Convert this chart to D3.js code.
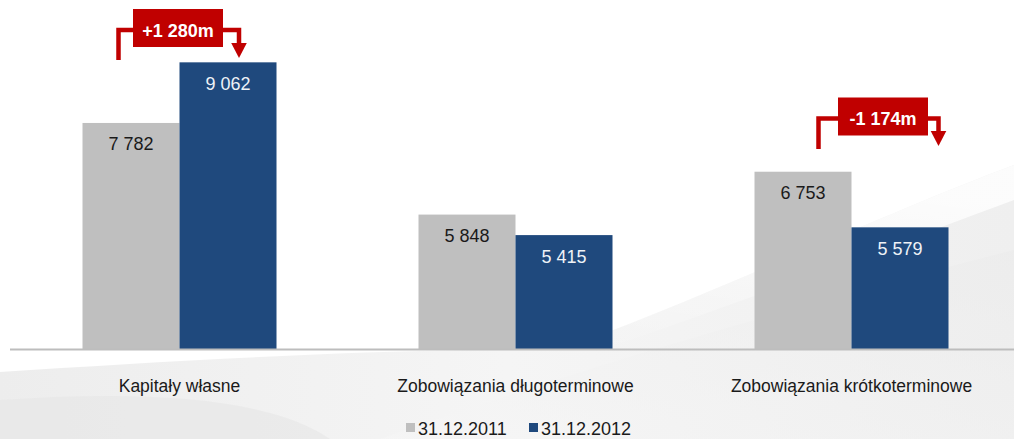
<!DOCTYPE html>
<html>
<head>
<meta charset="utf-8">
<script src="https://cdn.jsdelivr.net/npm/d3@7"></script>
<style>
  html, body { margin: 0; padding: 0; background: #ffffff; }
  svg { display: block; font-family: "Liberation Sans", Arial, sans-serif; }
</style>
</head>
<body>
<svg id="chart" width="1014" height="439"></svg>
<script>
// Balance-sheet structure, PLN m
const categories = ["Kapitały własne", "Zobowiązania długoterminowe", "Zobowiązania krótkoterminowe"];
const seriesNames = ["31.12.2011", "31.12.2012"];
const values2011 = [7782, 5848, 6753];
const values2012 = [9062, 5415, 5579];
const seriesColors = ["#bfbfbf", "#1f497d"];

// Change callouts: category index and label
const changes = [
  { cat: 0, label: "+1 280m" },
  { cat: 2, label: "-1 174m" }
];

const W = 1014, H = 439;
const svg = d3.select("#chart");

// Soft grey swoosh behind the plot
const defs = svg.append("defs");
const g1 = defs.append("linearGradient").attr("id", "swoosh").attr("x1", "0").attr("y1", "0").attr("x2", "1").attr("y2", "0");
g1.append("stop").attr("offset", "0").attr("stop-color", "#ededed");
g1.append("stop").attr("offset", "0.5").attr("stop-color", "#f5f5f5");
g1.append("stop").attr("offset", "1").attr("stop-color", "#efefef");
const g2 = defs.append("linearGradient").attr("id", "swoosh2").attr("x1", "0").attr("y1", "1").attr("x2", "1").attr("y2", "0");
g2.append("stop").attr("offset", "0").attr("stop-color", "#f6f6f6");
g2.append("stop").attr("offset", "1").attr("stop-color", "#ebebeb");
const fade = defs.append("linearGradient").attr("id", "fade").attr("x1", "0").attr("y1", "1").attr("x2", "0.35").attr("y2", "0");
fade.append("stop").attr("offset", "0").attr("stop-color", "#ffffff").attr("stop-opacity", 0);
fade.append("stop").attr("offset", "1").attr("stop-color", "#ffffff").attr("stop-opacity", 0.8);

svg.append("path")
  .attr("d", `M0,${H} L0,372 C150,362 330,352 470,350 L560,350 C700,300 880,215 ${W},165 L${W},${H} Z`)
  .attr("fill", "url(#swoosh)");
svg.append("path")
  .attr("d", `M560,350 C700,300 880,215 ${W},165 L${W},200 C880,250 720,310 600,350 Z`)
  .attr("fill", "url(#fade)");
svg.append("path")
  .attr("d", `M380,${H} C520,390 700,330 ${W},250 L${W},${H} Z`)
  .attr("fill", "url(#swoosh2)").attr("opacity", 0.6);
svg.append("path")
  .attr("d", `M0,${H} L0,400 C120,392 260,392 330,${H} Z`)
  .attr("fill", "#e6e6e6").attr("opacity", 0.6);

// Scales
const x0 = d3.scaleBand().domain(categories).range([11.5, 1019.5]).paddingInner(0).paddingOuter(0);
const groupW = 194;
const x1 = d3.scaleBand().domain(seriesNames).range([0, groupW]);
const y = d3.scaleLinear().domain([3000, 10000]).range([349.5, 17.9]);

const rows = categories.map((c, i) => ({ cat: c, vals: [values2011[i], values2012[i]] }));

const groups = svg.append("g").selectAll("g").data(rows).join("g")
  .attr("transform", d => `translate(${x0(d.cat) + (x0.bandwidth() - groupW) / 2},0)`);

groups.selectAll("rect").data(d => d.vals.map((v, j) => ({ v, s: seriesNames[j], j })))
  .join("rect")
  .attr("x", d => x1(d.s))
  .attr("width", x1.bandwidth())
  .attr("y", d => y(d.v))
  .attr("height", d => y.range()[0] - y(d.v))
  .attr("fill", d => seriesColors[d.j]);

const fmt = v => d3.format(",")(v).replace(/,/g, " ");
groups.selectAll("text.val").data(d => d.vals.map((v, j) => ({ v, s: seriesNames[j], j })))
  .join("text").attr("class", "val")
  .attr("x", d => x1(d.s) + x1.bandwidth() / 2)
  .attr("y", d => y(d.v) + 27.5)
  .attr("text-anchor", "middle")
  .attr("font-size", 18)
  .attr("fill", d => d.j === 0 ? "#1a1a1a" : "#eef2f7")
  .text(d => fmt(d.v));

// Baseline axis
const xAxis = d3.axisBottom(x0).tickSize(0).tickPadding(30);
const ax = svg.append("g").attr("transform", `translate(0,${y.range()[0]})`).call(xAxis);
ax.select(".domain").attr("d", `M10,0H${W}`).attr("stroke", "#bdbdbd").attr("stroke-width", 2);
ax.selectAll(".tick text").attr("font-size", 17.5).attr("fill", "#1a1a1a")
  .attr("font-family", "Liberation Sans, Arial, sans-serif");

// Legend
const legendItems = [
  { name: seriesNames[0], color: seriesColors[0], x: 406 },
  { name: seriesNames[1], color: seriesColors[1], x: 529 }
];
const lg = svg.append("g");
lg.selectAll("rect").data(legendItems).join("rect")
  .attr("x", d => d.x).attr("y", 423).attr("width", 9).attr("height", 9).attr("fill", d => d.color);
lg.selectAll("text").data(legendItems).join("text")
  .attr("x", d => d.x + 12).attr("y", 435)
  .attr("font-size", 18).attr("fill", "#1a1a1a")
  .text(d => d.name);

// Change callouts: bracket from the 2011 bar to an arrow on the 2012 bar
const red = "#c00000";
const calloutLayout = [
  { dxL: -61, dxR: 59.5, lineY: 30, legBottom: 60, tip: 58, shift: 0 },
  { dxL: -33, dxR: 87, lineY: 118.5, legBottom: 149, tip: 146, shift: 33 }
];
changes.forEach((c, i) => {
  const L = calloutLayout[i];
  const cx = x0(categories[c.cat]) + x0.bandwidth() / 2;
  const xl = cx + L.dxL, xr = cx + L.dxR;
  const g = svg.append("g");
  g.append("path")
    .attr("d", `M${xl},${L.legBottom} V${L.lineY} H${xr} V${L.tip - 12}`)
    .attr("fill", "none").attr("stroke", red).attr("stroke-width", 4.5);
  g.append("path")
    .attr("d", `M${xr - 7.8},${L.tip - 15} L${xr + 7.8},${L.tip - 15} L${xr},${L.tip} Z`)
    .attr("fill", red);
  const bx = cx - 1.5 + L.shift;
  g.append("rect").attr("x", bx - 45).attr("y", L.lineY - 21).attr("width", 90).attr("height", 38).attr("fill", red);
  g.append("text").attr("x", bx).attr("y", L.lineY + 6.5)
    .attr("text-anchor", "middle").attr("font-size", 18).attr("font-weight", "bold")
    .attr("fill", "#ffffff").text(c.label);
});
</script>
</body>
</html>
